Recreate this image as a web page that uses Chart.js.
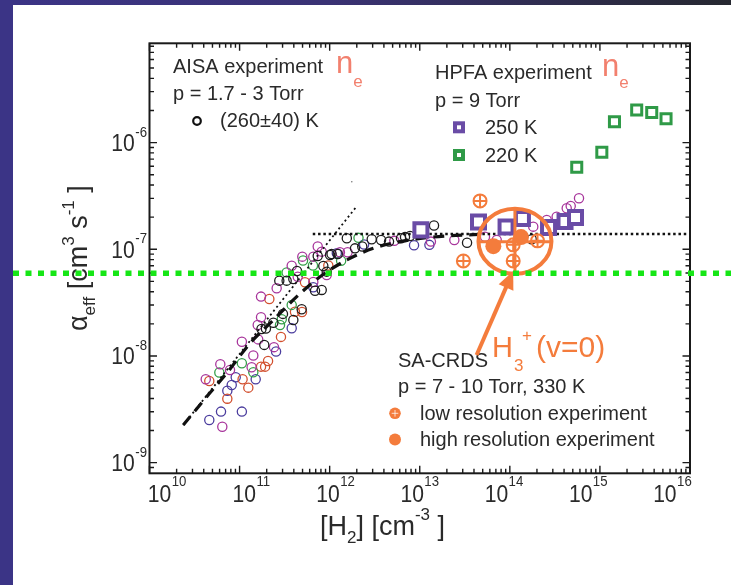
<!DOCTYPE html>
<html><head><meta charset="utf-8">
<script src="https://cdn.jsdelivr.net/npm/chart.js@4.4.1/dist/chart.umd.min.js"></script>
<style>html,body{margin:0;padding:0;background:#fff;overflow:hidden}canvas{display:block}</style>
</head><body>
<canvas id="c" width="731" height="585"></canvas>
<script>
// ---------------- data ----------------
const xTickExps = [10, 11, 12, 13, 14, 15, 16];
const yTickExps = [-9, -8, -7, -6];

// AISA experiment, (260±40) K, open circles in several colours
const aisaBlack = [[1.75e11,1.79e-8],[1.96e11,1.81e-8],[1.88e11,1.27e-8],[2.37e11,2.05e-8],[2.76e11,5.08e-8],[3.33e11,5.08e-8],[3.95e11,5.27e-8],[4.34e11,6.26e-8],[7.37e11,8.65e-8],[8.50e11,6.97e-8],[1.01e12,8.84e-8],[9.27e11,6.17e-8],[6.88e11,4.09e-8],[8.16e11,4.16e-8],[4.89e11,2.74e-8],[3.95e11,2.17e-8],[3.03e11,2.48e-8],[1.05e12,9.04e-8],[1.23e12,9.04e-8],[1.55e12,1.27e-7],[1.91e12,1.02e-7],[2.30e12,1.06e-7],[2.93e12,1.24e-7],[3.72e12,1.22e-7],[4.56e12,1.18e-7],[6.19e12,1.27e-7],[6.86e12,1.30e-7],[7.80e12,1.33e-7],[1.44e13,1.67e-7],[3.35e13,1.15e-7],[1.75e14,1.24e-7]];
const aisaMagenta = [[1.59e11,1.95e-8],[1.06e11,1.36e-8],[1.42e11,1.01e-8],[6.11e10,8.36e-9],[1.36e11,7.83e-9],[4.21e10,6.05e-9],[6.43e10,2.17e-9],[2.41e11,1.21e-8],[7.83e10,7.39e-9],[4.97e11,8.53e-8],[3.79e11,7.02e-8],[7.37e11,1.06e-7],[8.16e11,9.50e-8],[6.58e11,8.53e-8],[2.58e11,4.31e-8],[1.73e11,3.60e-8],[1.73e11,2.31e-8],[4.42e11,5.53e-8],[9.27e11,5.74e-8],[1.61e11,1.43e-8],[6.58e11,4.94e-8],[1.30e12,9.37e-8],[1.58e12,9.37e-8],[5.22e12,1.20e-7],[1.33e13,1.18e-7],[2.42e13,1.22e-7],[5.30e13,1.31e-7],[7.15e13,1.22e-7],[1.82e14,1.63e-7],[2.57e14,1.88e-7],[3.31e14,2.02e-7],[4.28e14,2.42e-7],[4.74e14,2.55e-7],[5.86e14,3.01e-7]];
const aisaRed = [[4.61e10,5.83e-9],[1.08e11,6.05e-9],[1.25e11,5.05e-9],[7.31e10,3.98e-9],[1.73e11,7.94e-9],[1.92e11,7.94e-9],[2.07e11,8.97e-9],[2.88e11,1.51e-8],[2.14e11,3.42e-8],[4.12e11,2.60e-8],[4.93e11,2.58e-8],[5.32e11,4.91e-8],[9.66e11,7.05e-8]];
const aisaGreen = [[5.96e10,7.00e-9],[1.06e11,8.55e-9],[1.42e11,7.03e-9],[2.81e11,1.95e-8],[5.06e11,7.85e-8],[6.53e11,7.05e-8],[3.79e11,3.01e-8],[2.94e11,2.21e-8],[3.33e11,6.07e-8],[1.34e12,7.82e-8],[2.09e12,1.28e-7]];
const aisaBlue = [[9.06e10,6.31e-9],[8.18e10,5.35e-9],[7.31e10,4.73e-9],[1.51e11,6.05e-9],[2.54e11,1.10e-8],[6.22e10,3.01e-9],[1.06e11,3.01e-9],[4.61e10,2.51e-9],[6.58e11,4.41e-8],[3.79e11,1.82e-8],[1.20e12,9.18e-8],[2.41e12,1.11e-7],[8.64e12,1.09e-7],[1.28e13,1.10e-7]];
const strayDot = [[1.76e12,4.30e-7]];

// HPFA experiment, p = 9 Torr
const hpfa250K = [[1.03e13,1.52e-7],[4.49e13,1.80e-7],[9.08e13,1.62e-7],[1.38e14,1.94e-7],[2.69e14,1.60e-7],[4.10e14,1.82e-7],[5.36e14,1.99e-7]];
const hpfa220K = [[5.53e14,5.87e-7],[1.05e15,8.11e-7],[1.45e15,1.57e-6],[2.56e15,2.02e-6],[3.76e15,1.91e-6],[5.42e15,1.67e-6]];

// SA-CRDS
const sacrdsLowRes = [[4.67e13,2.84e-7],[3.05e13,7.77e-8],[1.09e14,1.10e-7],[1.09e14,7.77e-8],[2.03e14,1.20e-7]];
const sacrdsHighRes = [[6.56e13,1.07e-7],[1.33e14,1.30e-7]];

// model / guide lines
const dashedCurve = [[2.37e10,2.25e-9],[4.32e10,4.16e-9],[7.19e10,6.89e-9],[1.31e11,1.32e-8],[2.37e11,2.17e-8],[4.31e11,3.60e-8],[7.82e11,5.53e-8],[1.55e12,7.94e-8],[3.05e12,1.02e-7],[6.04e12,1.18e-7],[1.26e13,1.29e-7],[2.51e13,1.35e-7],[5.01e13,1.38e-7]];
const dottedSlope = [[2.37e10,2.25e-9],[1.96e12,2.48e-7]];
const dottedPlateau = [[6.49e11,1.39e-7],[1e16,1.39e-7]];
const greenLineValue = 5.95e-8;

// highlight annotation (data coordinates)
const highlightCenter = [1.14e14, 1.19e-7];
const arrowFrom = [4.28e13, 1.02e-8];
const arrowTo = [1.09e14, 6.26e-8];

// ---------------- drawing ----------------
const FONT = '"Liberation Sans", Arial, Helvetica, sans-serif';
const ORANGE = '#f47c3c';
const PURPLE = '#6a4ca6';
const SQGREEN = '#2f9a47';
const TXT = '#2a2a2a';
const xy = a => a.map(p => ({x: p[0], y: p[1]}));

function drawRun(ctx, x, y, parts) {
  let cx = x;
  for (const [t, s, dy] of parts) {
    ctx.font = s + 'px ' + FONT;
    ctx.fillText(t, cx, y + (dy || 0));
    cx += ctx.measureText(t).width;
  }
  return cx;
}
// squeezed "10^e" label; returns nothing. anchor: left x
const SQ = 0.88;
function powLabel(ctx, left, baseY, supY, e) {
  ctx.save();
  ctx.translate(left, 0); ctx.scale(SQ, 1);
  ctx.font = '24px ' + FONT; ctx.fillText('10', 0, baseY);
  const w = ctx.measureText('10').width;
  ctx.font = '15px ' + FONT; ctx.fillText(String(e), w + 0.5, supY);
  ctx.restore();
}
function powWidth(ctx, e) {
  ctx.font = '24px ' + FONT; const w = ctx.measureText('10').width;
  ctx.font = '15px ' + FONT; return (w + 0.5 + ctx.measureText(String(e)).width) * SQ;
}

const deco = {
  id: 'deco',
  beforeDraw(chart) {
    const ctx = chart.ctx;
    ctx.save();
    ctx.fillStyle = '#fff'; ctx.fillRect(0, 0, 731, 585);
    const g = ctx.createLinearGradient(0, 0, 731, 0);
    g.addColorStop(0, '#3b3486'); g.addColorStop(0.45, '#3a3274'); g.addColorStop(1, '#262830');
    ctx.fillStyle = g; ctx.fillRect(0, 0, 731, 5);
    ctx.fillStyle = '#3b3486'; ctx.fillRect(0, 0, 13, 585);
    ctx.restore();
  },
  afterDraw(chart) {
    const ctx = chart.ctx, xs = chart.scales.x, ys = chart.scales.y, ca = chart.chartArea;
    ctx.save();
    // frame
    ctx.strokeStyle = '#1a1a1a'; ctx.lineWidth = 2;
    ctx.strokeRect(ca.left, ca.top, ca.right - ca.left, ca.bottom - ca.top);
    // ticks (inward, all four sides)
    ctx.lineWidth = 1.4;
    ctx.beginPath();
    for (let e = 10; e <= 16; e++) for (let k = 1; k <= 9; k++) {
      const v = k * Math.pow(10, e); if (v > 1.0001e16) continue;
      const px = xs.getPixelForValue(v), len = k === 1 ? 7.5 : 4.5;
      ctx.moveTo(px, ca.bottom); ctx.lineTo(px, ca.bottom - len);
      ctx.moveTo(px, ca.top); ctx.lineTo(px, ca.top + len);
    }
    for (let e = -10; e <= -6; e++) for (let k = 1; k <= 9; k++) {
      const v = k * Math.pow(10, e); if (v < ys.min * 1.02 || v > ys.max) continue;
      const py = ys.getPixelForValue(v), len = k === 1 ? 7.5 : 4.5;
      ctx.moveTo(ca.left, py); ctx.lineTo(ca.left + len, py);
      ctx.moveTo(ca.right, py); ctx.lineTo(ca.right - len, py);
    }
    ctx.stroke();
    // tick labels
    ctx.fillStyle = TXT; ctx.textBaseline = 'alphabetic'; ctx.textAlign = 'left';
    const midX = (ca.left + ca.right) / 2;
    for (const e of xTickExps) {
      const px = xs.getPixelForValue(Math.pow(10, e));
      const c = px + (midX - px) * 0.065;
      const W = powWidth(ctx, e);
      powLabel(ctx, c - W / 2, 502, 486, e);
    }
    for (const e of yTickExps) {
      const py = ys.getPixelForValue(Math.pow(10, e));
      const W = powWidth(ctx, e);
      powLabel(ctx, 147 - W, py + 8.5, py - 6, e);
    }
    // axis titles
    drawRun(ctx, 320, 535, [['[H', 27], ['2', 17, 8], ['] [cm', 27], ['-3', 17, -15], [' ]', 27]]);
    ctx.save();
    ctx.translate(87, 331); ctx.rotate(-Math.PI / 2);
    drawRun(ctx, 0, 0, [['\u03b1', 27], ['eff', 17, 8], [' [cm', 27], ['3', 17, -13], [' s', 27], ['-1', 17, -13], [' ]', 27]]);
    ctx.restore();

    // legend texts
    ctx.fillStyle = TXT; ctx.font = '20px ' + FONT;
    ctx.fillText('AISA experiment', 173, 73);
    ctx.fillText('p = 1.7 - 3 Torr', 173, 100);
    ctx.fillText('(260\u00b140) K', 220, 127);
    ctx.fillText('HPFA experiment', 435, 79);
    ctx.fillText('p = 9 Torr', 435, 107);
    ctx.fillText('250 K', 485, 134);
    ctx.fillText('220 K', 485, 162);
    ctx.fillText('SA-CRDS', 398, 367);
    ctx.fillText('p = 7 - 10 Torr, 330 K', 398, 393);
    ctx.fillText('low resolution experiment', 420, 420);
    ctx.fillText('high resolution experiment', 420, 446);
    // n_e labels
    ctx.fillStyle = '#f2806e';
    drawRun(ctx, 336, 73, [['n', 31], ['e', 17, 14]]);
    drawRun(ctx, 602, 76, [['n', 31], ['e', 17, 12]]);
    // legend markers
    ctx.strokeStyle = '#111'; ctx.lineWidth = 2.2;
    ctx.beginPath(); ctx.arc(197, 121, 3.8, 0, Math.PI * 2); ctx.stroke();
    for (const [cy, col] of [[127.3, PURPLE], [155, SQGREEN]]) {
      ctx.fillStyle = '#fff'; ctx.fillRect(455, cy - 4, 8, 8);
      ctx.strokeStyle = col; ctx.lineWidth = 4; ctx.strokeRect(455, cy - 4, 8, 8);
    }
    ctx.fillStyle = ORANGE;
    ctx.beginPath(); ctx.arc(395, 413.3, 5.8, 0, Math.PI * 2); ctx.fill();
    ctx.strokeStyle = 'rgba(255,255,255,0.75)'; ctx.lineWidth = 1;
    ctx.beginPath(); ctx.moveTo(395, 410); ctx.lineTo(395, 416.6); ctx.moveTo(391.7, 413.3); ctx.lineTo(398.3, 413.3); ctx.stroke();
    ctx.fillStyle = ORANGE;
    ctx.beginPath(); ctx.arc(395, 439.5, 6, 0, Math.PI * 2); ctx.fill();

    // highlight ellipse with crosshair
    const hx = xs.getPixelForValue(highlightCenter[0]), hy = ys.getPixelForValue(highlightCenter[1]);
    ctx.strokeStyle = ORANGE; ctx.lineWidth = 4;
    ctx.beginPath(); ctx.ellipse(hx, hy, 36.5, 32.5, 0, 0, Math.PI * 2); ctx.stroke();
    ctx.lineWidth = 3;
    ctx.beginPath();
    ctx.moveTo(hx - 36, hy + 0.5); ctx.lineTo(hx + 36, hy + 0.5);
    ctx.moveTo(hx, hy - 32); ctx.lineTo(hx, hy + 32);
    ctx.stroke();
    // arrow
    const ax0 = xs.getPixelForValue(arrowFrom[0]), ay0 = ys.getPixelForValue(arrowFrom[1]);
    const ax1 = xs.getPixelForValue(arrowTo[0]), ay1 = ys.getPixelForValue(arrowTo[1]);
    const ang = Math.atan2(ay1 - ay0, ax1 - ax0);
    const hl = 18, hw = 8;
    const bx = ax1 - hl * Math.cos(ang), by = ay1 - hl * Math.sin(ang);
    ctx.lineWidth = 4; ctx.lineCap = 'butt';
    ctx.beginPath(); ctx.moveTo(ax0, ay0); ctx.lineTo(bx + 2 * Math.cos(ang), by + 2 * Math.sin(ang)); ctx.stroke();
    ctx.fillStyle = ORANGE;
    ctx.beginPath(); ctx.moveTo(ax1, ay1);
    ctx.lineTo(bx + hw * Math.sin(ang), by - hw * Math.cos(ang));
    ctx.lineTo(bx - hw * Math.sin(ang), by + hw * Math.cos(ang));
    ctx.closePath(); ctx.fill();
    // H3+(v=0)
    ctx.fillStyle = ORANGE;
    ctx.font = '29px ' + FONT; ctx.fillText('H', 492, 357);
    const hw2 = ctx.measureText('H').width;
    ctx.font = '17px ' + FONT; ctx.fillText('3', 492 + hw2 + 1, 371);
    ctx.fillText('+', 492 + hw2 + 9, 341);
    ctx.font = '30px ' + FONT; ctx.fillText('(v=0)', 536, 357);

    // bright green dotted reference line
    const gy = ys.getPixelForValue(greenLineValue);
    ctx.strokeStyle = '#16e616'; ctx.lineWidth = 5.5; ctx.setLineDash([6, 6.5]);
    ctx.beginPath(); ctx.moveTo(13, gy); ctx.lineTo(731, gy); ctx.stroke();
    ctx.restore();
  }
};

const circ = (data, color, order) => ({
  type: 'scatter', data: xy(data), pointStyle: 'circle', pointRadius: 4.6,
  borderColor: color, backgroundColor: 'rgba(0,0,0,0)', borderWidth: 1.3, order
});
const lineDs = (data, dash, width, order, mode) => ({
  type: 'line', data: xy(data), borderColor: '#111', borderWidth: width, borderDash: dash,
  pointRadius: 0, fill: false, tension: 0, cubicInterpolationMode: mode || 'default', order
});

new Chart(document.getElementById('c'), {
  type: 'scatter',
  data: {
    datasets: [
      { type: 'scatter', data: xy(sacrdsLowRes), pointStyle: 'cross', pointRadius: 6.5, borderColor: ORANGE, borderWidth: 2, order: 0 },
      { type: 'scatter', data: xy(sacrdsLowRes), pointStyle: 'circle', pointRadius: 6.5, borderColor: ORANGE, backgroundColor: 'rgba(0,0,0,0)', borderWidth: 2, order: 0 },
      { type: 'scatter', data: xy(sacrdsHighRes), pointStyle: 'circle', pointRadius: 8, borderWidth: 0, backgroundColor: ORANGE, order: 1 },
      { type: 'scatter', data: xy(hpfa250K), pointStyle: 'rect', pointRadius: 9.2, borderColor: PURPLE, backgroundColor: '#fff', borderWidth: 4, order: 2 },
      { type: 'scatter', data: xy(hpfa220K), pointStyle: 'rect', pointRadius: 7.1, borderColor: SQGREEN, backgroundColor: '#fff', borderWidth: 3, order: 2 },
      lineDs(dashedCurve, [11, 7], 3.2, 3, 'monotone'),
      lineDs(dottedSlope, [2, 3], 1.8, 4),
      lineDs(dottedPlateau, [2.5, 2.8], 2.6, 4),
      circ(aisaBlack, '#1c1c1c', 5),
      circ(aisaMagenta, '#a8369c', 6),
      circ(aisaGreen, '#35a04a', 7),
      circ(aisaRed, '#d24f2e', 8),
      circ(aisaBlue, '#4b3d9e', 9),
      { type: 'scatter', data: xy(strayDot), pointStyle: 'circle', pointRadius: 0.8, borderWidth: 0, backgroundColor: '#777', order: 10 }
    ]
  },
  options: {
    responsive: false, devicePixelRatio: 1, animation: false, events: [],
    layout: { padding: { left: 149.5, right: 41, top: 43.3, bottom: 111.7 } },
    plugins: { legend: { display: false }, tooltip: { enabled: false } },
    scales: {
      x: { type: 'logarithmic', min: 1e10, max: 1e16, display: false, bounds: 'data' },
      y: { type: 'logarithmic', min: 7.95e-10, max: 8.52e-6, display: false, bounds: 'data' }
    }
  },
  plugins: [deco]
});
</script>
</body></html>
